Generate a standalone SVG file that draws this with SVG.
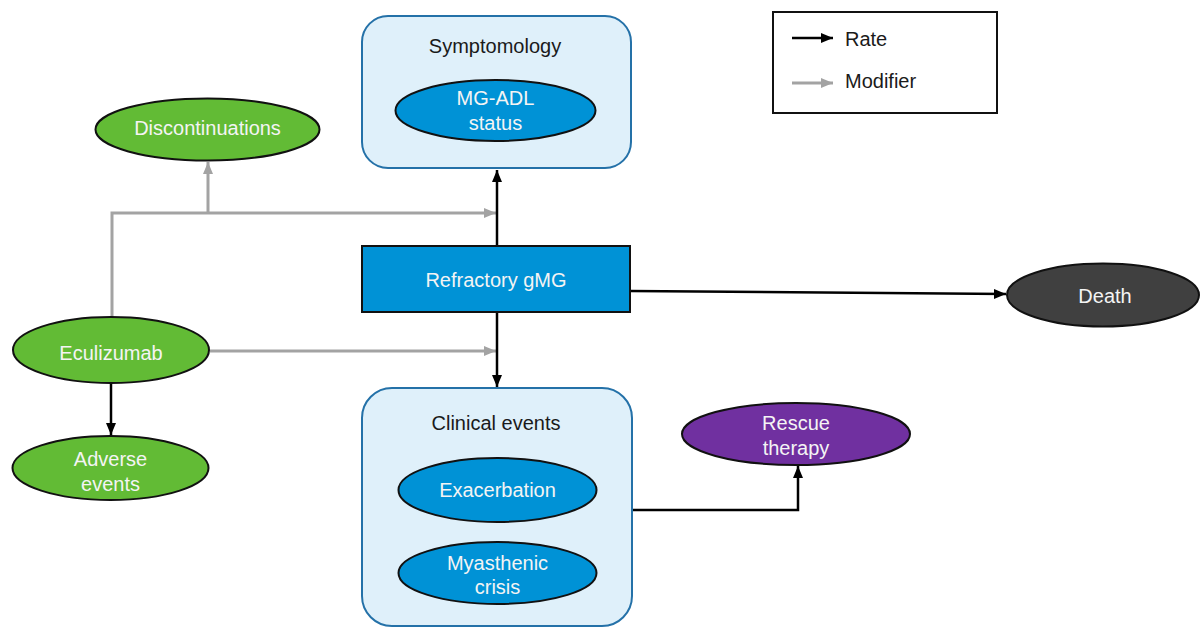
<svg xmlns="http://www.w3.org/2000/svg" width="1201" height="628" viewBox="0 0 1201 628">
<style>
text{font-family:"Liberation Sans",Arial,sans-serif;font-size:20px;text-anchor:middle}
.w{fill:#f4f4f4}
.k{fill:#1a1a1a}
.box{fill:#dff0fa;stroke:#2471a8;stroke-width:2}
.blue{fill:#0092d6;stroke:#111;stroke-width:2}
.green{fill:#62bb35;stroke:#111;stroke-width:2}
.rate{fill:none;stroke:#000;stroke-width:2.5;marker-end:url(#ab)}
.mod{fill:none;stroke:#a3a3a3;stroke-width:3}
.moda{marker-end:url(#ag)}
</style>
<defs>
<marker id="ab" markerUnits="userSpaceOnUse" markerWidth="13" markerHeight="13" viewBox="0 0 13 13" refX="12" refY="6.5" orient="auto"><path d="M0,1.5 L12,6.5 L0,11.5 Z" fill="#000"/></marker>
<marker id="ag" markerUnits="userSpaceOnUse" markerWidth="13" markerHeight="13" viewBox="0 0 13 13" refX="12" refY="6.5" orient="auto"><path d="M0,1.5 L12,6.5 L0,11.5 Z" fill="#a3a3a3"/></marker>
</defs>

<g id="connectors">
<path class="mod" d="M112,318 V213 H208"/>
<path class="mod moda" d="M208,213 H496"/>
<path class="mod moda" d="M208,213 V162"/>
<path class="mod moda" d="M210,351 H496"/>
<path class="rate" d="M497,246 V170"/>
<path class="rate" d="M497,313 V387"/>
<path class="rate" d="M630,291 L1006,294"/>
<path class="rate" d="M111,383 V435"/>
<path class="rate" d="M632,510 H798 V466"/>
</g>

<g id="symptomology">
<rect class="box" x="362" y="16" width="269" height="152" rx="26"/>
<text class="k" x="495" y="53">Symptomology</text>
</g>
<g id="mgadl">
<ellipse class="blue" cx="495.5" cy="110.5" rx="100" ry="30.5"/>
<text class="w" x="495.5" y="105">MG-ADL</text>
<text class="w" x="495.5" y="130">status</text>
</g>

<g id="discontinuations">
<ellipse class="green" cx="207.5" cy="129.5" rx="112" ry="31"/>
<text class="w" x="207.5" y="135">Discontinuations</text>
</g>

<g id="refractory">
<rect x="362" y="246" width="268" height="66" fill="#0092d6" stroke="#111" stroke-width="2"/>
<text class="w" x="496" y="287">Refractory gMG</text>
</g>

<g id="death">
<ellipse cx="1103" cy="295" rx="96" ry="31.5" fill="#404040" stroke="#111" stroke-width="2"/>
<text class="w" x="1105" y="303">Death</text>
</g>

<g id="eculizumab">
<ellipse class="green" cx="111" cy="350" rx="98" ry="33"/>
<text class="w" x="111" y="360">Eculizumab</text>
</g>

<g id="adverse">
<ellipse class="green" cx="110.5" cy="468" rx="98" ry="32"/>
<text class="w" x="110.5" y="466">Adverse</text>
<text class="w" x="110.5" y="491">events</text>
</g>

<g id="clinical">
<rect class="box" x="362" y="388" width="270" height="238" rx="30"/>
<text class="k" x="496" y="430">Clinical events</text>
</g>
<g id="exacerbation">
<ellipse class="blue" cx="497.5" cy="490" rx="99" ry="32"/>
<text class="w" x="497.5" y="497">Exacerbation</text>
</g>
<g id="crisis">
<ellipse class="blue" cx="497.5" cy="573" rx="99" ry="31"/>
<text class="w" x="497.5" y="570">Myasthenic</text>
<text class="w" x="497.5" y="594">crisis</text>
</g>

<g id="rescue">
<ellipse cx="796" cy="434" rx="114" ry="31" fill="#7030a0" stroke="#111" stroke-width="2"/>
<text class="w" x="796" y="430">Rescue</text>
<text class="w" x="796" y="455">therapy</text>
</g>

<g id="legend">
<rect x="773" y="12" width="224" height="101" fill="#fff" stroke="#111" stroke-width="2"/>
<path class="rate" d="M792,38 H833"/>
<path class="mod moda" d="M792,83 H833"/>
<text class="k" x="845" y="46" style="text-anchor:start">Rate</text>
<text class="k" x="845" y="88" style="text-anchor:start">Modifier</text>
</g>
</svg>
